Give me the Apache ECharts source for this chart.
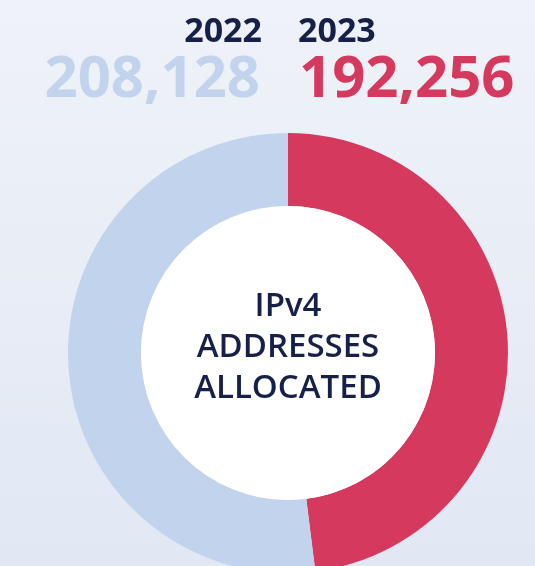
<!DOCTYPE html>
<html>
<head>
<meta charset="utf-8">
<script src="https://cdn.jsdelivr.net/npm/echarts@6/dist/echarts.min.js"></script>
<style>
  html, body { margin: 0; padding: 0; }
  #chart { width: 535px; height: 566px; }
</style>
</head>
<body>
<div id="chart"></div>
<script>
const years = ['2022', '2023']
const allocated = [208128, 192256]
const colors = ['#c1d3ed', '#d6395e']
const centerLabel = 'IPv4\nADDRESSES\nALLOCATED'

const NAVY = '#172048'
const fmt = v => v.toLocaleString('en-US')

const chart = echarts.init(document.getElementById('chart'))
chart.setOption({
  backgroundColor: {
    type: 'linear', x: 0, y: 0, x2: 0, y2: 1,
    colorStops: [{ offset: 0, color: '#eff2f8' }, { offset: 1, color: '#e1e8f4' }]
  },
  animation: false,
  graphic: [
    // left group (2022) right-aligned, right group (2023) left-aligned
    { type: 'text', x: 262, y: 32, style: { text: years[0], textAlign: 'right', textVerticalAlign: 'middle', fill: NAVY, font: 'bold 34px "Open Sans"' } },
    { type: 'text', x: 260, y: 80, style: { text: fmt(allocated[0]), textAlign: 'right', textVerticalAlign: 'middle', fill: colors[0], font: 'bold 58px "Open Sans"' } },
    { type: 'text', x: 298, y: 32, style: { text: years[1], textAlign: 'left', textVerticalAlign: 'middle', fill: NAVY, font: 'bold 34px "Open Sans"' } },
    { type: 'text', x: 299, y: 80, style: { text: fmt(allocated[1]), textAlign: 'left', textVerticalAlign: 'middle', fill: colors[1], font: 'bold 58px "Open Sans"' } },
    { type: 'text', x: 288, y: 348, z: 10, style: { text: centerLabel, textAlign: 'center', textVerticalAlign: 'middle', fill: NAVY, font: '600 33px "Open Sans"', lineHeight: 41 } }
  ],
  series: [
    {
      type: 'pie',
      center: [288, 353],
      radius: [147, 220],
      startAngle: 90,
      clockwise: true,
      silent: true,
      label: { show: false },
      labelLine: { show: false },
      data: [
        { name: years[1], value: allocated[1], itemStyle: { color: colors[1] } },
        { name: years[0], value: allocated[0], itemStyle: { color: colors[0] } }
      ]
    },
    {
      type: 'pie',
      center: [288, 353],
      radius: [0, 147],
      silent: true,
      label: { show: false },
      data: [{ value: 1, itemStyle: { color: '#ffffff' } }]
    }
  ]
})
</script>
</body>
</html>
